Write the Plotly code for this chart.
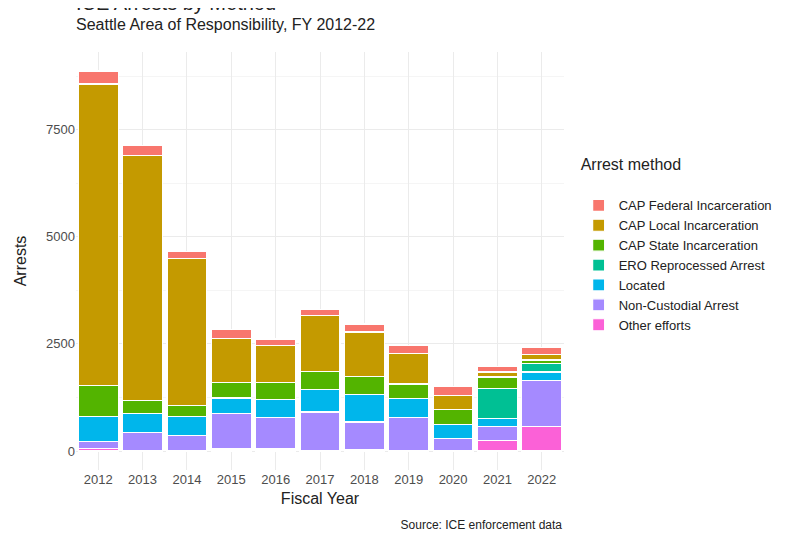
import plotly.graph_objects as go

years = [str(y) for y in range(2012, 2023)]

other_efforts = [60, 15, 10, 46, 46, 15, 40, 20, 10, 247, 579]
non_custodial = [170, 415, 345, 834, 733, 895, 639, 759, 283, 332, 1065]
located = [570, 440, 448, 355, 417, 517, 641, 448, 332, 177, 200]
ero_reprocessed = [0, 0, 0, 0, 0, 0, 0, 0, 0, 710, 201]
cap_state = [725, 300, 262, 370, 401, 425, 416, 339, 347, 262, 77]
cap_local = [7040, 5725, 3426, 1027, 872, 1304, 1042, 710, 324, 116, 139]
cap_federal = [300, 230, 162, 208, 147, 139, 185, 193, 201, 131, 154]

# bottom of stack first
series = [
    ("Other efforts", other_efforts, "#FB61D7"),
    ("Non-Custodial Arrest", non_custodial, "#A58AFF"),
    ("Located", located, "#00B6EB"),
    ("ERO Reprocessed Arrest", ero_reprocessed, "#00C094"),
    ("CAP State Incarceration", cap_state, "#53B400"),
    ("CAP Local Incarceration", cap_local, "#C49A00"),
    ("CAP Federal Incarceration", cap_federal, "#F8766D"),
]

fig = go.Figure()
for name, vals, col in series:
    fig.add_trace(go.Bar(
        x=years, y=vals, name=name,
        marker=dict(color=col, line=dict(color="white", width=1.2)),
    ))

fig.update_layout(
    barmode="stack",
    bargap=0.1,
    width=800, height=534,
    margin=dict(l=66, r=244, t=44, b=72),
    plot_bgcolor="white", paper_bgcolor="white",
    font=dict(family="Liberation Sans, Arial, sans-serif", size=13, color="#222"),
    legend=dict(
        traceorder="reversed",
        title=dict(text="Arrest method<br>", font=dict(size=16)),
        x=1.03, y=0.54, yanchor="middle", xanchor="left",
        font=dict(size=13),
        itemwidth=30,
        tracegroupgap=0,
    ),
    annotations=[
        dict(text="Seattle Area of Responsibility, FY 2012-22", xref="paper", yref="paper",
             x=-0.005, y=1.04, xanchor="left", yanchor="bottom", showarrow=False,
             font=dict(size=16)),
        dict(text="ICE Arrests by Method", xref="paper", yref="paper",
             x=-0.005, y=1.085, xanchor="left", yanchor="bottom", showarrow=False,
             font=dict(size=20)),
        dict(text="Source: ICE enforcement data<br>Figure: University of Washington Center for Human Rights",
             xref="paper", yref="paper", x=1, y=-0.11, xanchor="right", yanchor="top",
             align="right", showarrow=False, font=dict(size=12)),
    ],
)

fig.update_xaxes(title=dict(text="Fiscal Year", font=dict(size=16), standoff=6),
                 showgrid=True, gridcolor="#ebebeb", ticks="", tickfont=dict(color="#4d4d4d"))
fig.update_yaxes(title=dict(text="Arrests", font=dict(size=16)),
                 range=[-443, 9310], tickvals=[0, 2500, 5000, 7500],
                 showgrid=True, gridcolor="#ebebeb", zeroline=False,
                 minor=dict(tickvals=[1250, 3750, 6250, 8750], showgrid=True, gridcolor="#f5f5f5"),
                 tickfont=dict(color="#4d4d4d"))

fig.write_html("out.html")
